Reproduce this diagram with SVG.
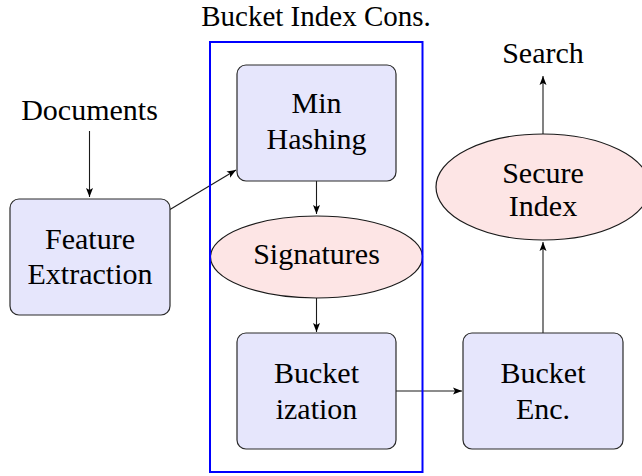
<svg xmlns="http://www.w3.org/2000/svg" width="642" height="476" viewBox="0 0 642 476">
  <style>
    text { font-family: "Liberation Serif", "Times New Roman", Tinos, "DejaVu Serif", "Noto Serif", FreeSerif, serif; font-size: 30px; fill: #000; text-anchor: middle; }
    .title { font-size: 29px; }
    .box { fill: #e6e6fc; stroke: #2a2a2a; stroke-width: 1.2; }
    .ell { fill: #fde5e5; stroke: #1a1a1a; stroke-width: 1.2; }
    .conn { fill: none; stroke: #1a1a1a; stroke-width: 1.1; marker-end: url(#arrow); }
    .frame { fill: none; stroke: #0000ff; stroke-width: 2; }
  </style>
  <defs>
    <marker id="arrow" markerUnits="userSpaceOnUse" markerWidth="12" markerHeight="10" refX="9" refY="4" orient="auto">
      <path d="M0,0.5 L9,4 L0,7.5 L2,4 Z" fill="#000"/>
    </marker>
  </defs>

  <g id="connectors">
    <path class="conn" d="M89.5,131 L89.5,197"/>
    <path class="conn" d="M170,209.5 L236,170"/>
    <path class="conn" d="M316.5,181 L316.5,214"/>
    <path class="conn" d="M316.5,298 L316.5,332"/>
    <path class="conn" d="M396,391 L462,391"/>
    <path class="conn" d="M543,333 L543,242"/>
    <path class="conn" d="M543,134 L543,76"/>
  </g>

  <g id="label-documents"><text x="89.5" y="120">Documents</text></g>
  <g id="label-search"><text x="543" y="63">Search</text></g>

  <g id="feature-extraction">
    <rect class="box" x="10" y="199" width="160" height="116" rx="9"/>
    <text x="90" y="249">Feature</text>
    <text x="90" y="284">Extraction</text>
  </g>

  <g id="min-hashing">
    <rect class="box" x="237" y="65" width="159" height="116" rx="9"/>
    <text x="316.5" y="113">Min</text>
    <text x="316.5" y="149">Hashing</text>
  </g>

  <g id="signatures">
    <ellipse class="ell" cx="316.5" cy="257" rx="106" ry="41"/>
    <text x="316.5" y="264">Signatures</text>
  </g>

  <g id="bucketization">
    <rect class="box" x="237" y="333" width="159" height="116" rx="9"/>
    <text x="316.5" y="383">Bucket</text>
    <text x="316.5" y="419">ization</text>
  </g>

  <g id="bucket-enc">
    <rect class="box" x="463" y="333" width="160" height="116" rx="9"/>
    <text x="543" y="383">Bucket</text>
    <text x="543" y="419">Enc.</text>
  </g>

  <g id="secure-index">
    <ellipse class="ell" cx="543" cy="187" rx="107" ry="53"/>
    <text x="543" y="183">Secure</text>
    <text x="543" y="216">Index</text>
  </g>

  <g id="bucket-index-cons">
    <rect class="frame" x="210" y="42" width="212.5" height="430"/>
    <text class="title" x="316" y="26">Bucket Index Cons.</text>
  </g>
</svg>
